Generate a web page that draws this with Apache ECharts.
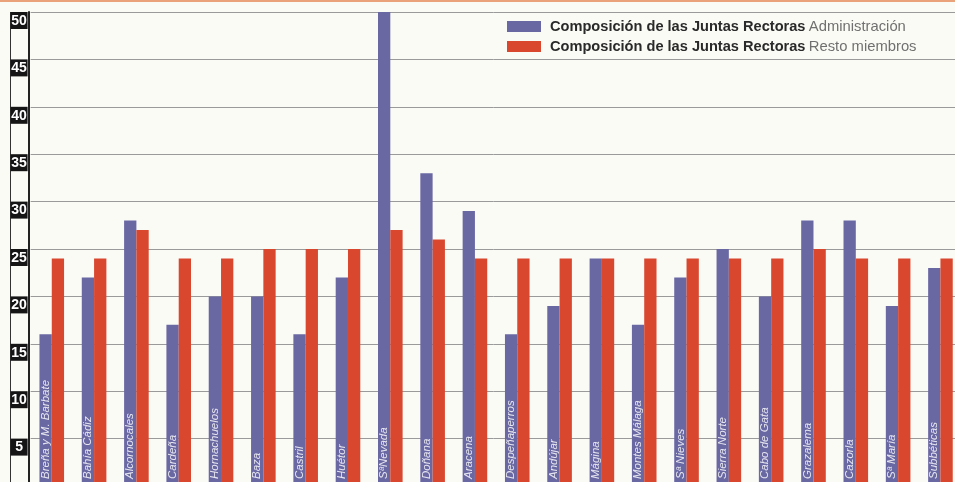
<!DOCTYPE html>
<html>
<head>
<meta charset="utf-8">
<script src="https://cdn.jsdelivr.net/npm/echarts@6/dist/echarts.min.js"></script>
<style>html,body{margin:0;padding:0;background:#fbfbf6;}#c{width:955px;height:482px;}</style>
</head>
<body>
<div id="c"></div>
<script>
const categories = ['Breña y M. Barbate','Bahía Cádiz','Alcornocales','Cardeña','Hornachuelos','Baza','Castril','Huétor','SªNevada','Doñana','Aracena','Despeñaperros','Andújar','Mágina','Montes Málaga','Sª Nieves','Sierra Norte','Cabo de Gata','Grazalema','Cazorla','Sª María','Subbéticas'];
const administracion = [16,22,28,17,20,20,16,22,50,33,29,16,19,24,17,22,25,20,28,28,19,23];
const restoMiembros = [24,24,27,24,24,25,25,25,27,26,24,24,24,24,24,24,24,24,25,24,24,24];
const yTicks = [0,5,10,15,20,25,30,35,40,45,50];
const seriesPrefix = 'Composición de las Juntas Rectoras';
const nameAdmin = seriesPrefix + ' Administración';
const nameResto = seriesPrefix + ' Resto miembros';

const chart = echarts.init(document.getElementById('c'));
chart.setOption({
  backgroundColor: '#fbfbf6',
  animation: false,
  textStyle: {fontFamily: 'Liberation Sans, Arial, sans-serif'},
  grid: {left: 30.6, width: 931, top: 12, height: 474, containLabel: false, outerBoundsMode: 'none'},
  graphic: [
    {type: 'rect', shape: {x: 0, y: 0, width: 955, height: 2}, style: {fill: '#e9a27a'}, silent: true},
    {type: 'line', shape: {x1: 10.5, y1: 12, x2: 10.5, y2: 482}, style: {stroke: '#333', lineWidth: 1}, silent: true}
  ],
  legend: {
    orient: 'vertical',
    left: 502, top: 14,
    itemWidth: 34, itemHeight: 11,
    itemGap: 5,
    icon: 'rect',
    data: [nameAdmin, nameResto],
    formatter: function (name) {
      const rest = name.slice(seriesPrefix.length + 1);
      return '{b|' + seriesPrefix + '} {n|' + rest + '}';
    },
    textStyle: {
      padding: [0, 0, 0, 4],
      rich: {
        b: {fontWeight: 'bold', fontSize: 14.6, color: '#2a2a2a', lineHeight: 15},
        n: {fontSize: 14.8, color: '#707070', lineHeight: 15}
      }
    }
  },
  xAxis: {
    type: 'category',
    data: categories,
    axisLine: {show: false},
    axisTick: {show: false},
    axisLabel: {show: false},
    splitLine: {show: false}
  },
  yAxis: {
    type: 'value',
    min: 0, max: 50, interval: 5,
    offset: 2,
    axisLine: {show: true, lineStyle: {color: '#222', width: 2}},
    axisTick: {show: false},
    splitLine: {show: true, lineStyle: {color: '#9a9a9a', width: 1}},
    axisLabel: {
      show: true,
      showMinLabel: false,
      inside: false,
      margin: 1,
      align: 'right',
      verticalAlign: 'top',
      formatter: function (v) { return '{a|' + v + '}'; },
      rich: {
        a: {
          color: '#fff',
          fontWeight: 'bold',
          fontSize: 14,
          backgroundColor: '#151515',
          width: 17,
          align: 'center',
          padding: [2, 0, 1, 0]
        }
      }
    }
  },
  series: [
    {
      name: nameAdmin,
      type: 'bar',
      data: administracion,
      barWidth: 12.3,
      barGap: '0%',
      itemStyle: {color: '#6a68a3'},
      label: {
        show: true,
        position: 'insideBottom',
        rotate: 90,
        align: 'left',
        verticalAlign: 'middle',
        distance: 7,
        formatter: '{b}',
        color: '#e6e6f0',
        fontStyle: 'italic',
        fontSize: 11.5
      }
    },
    {
      name: nameResto,
      type: 'bar',
      data: restoMiembros,
      barWidth: 12.3,
      itemStyle: {color: '#d9472f'}
    }
  ]
});
</script>
</body>
</html>
